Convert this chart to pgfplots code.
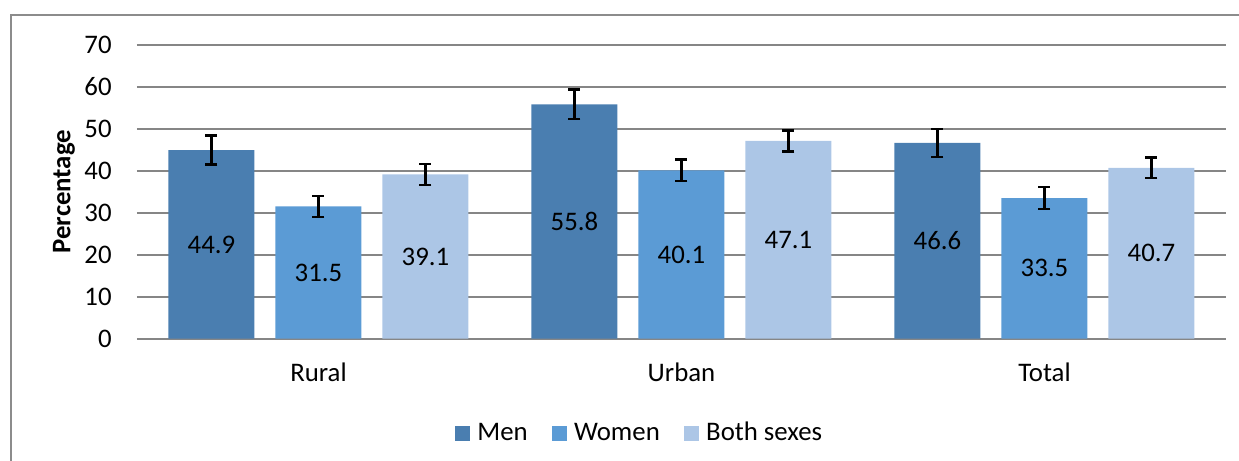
\documentclass[border=0pt]{standalone}
\usepackage{pgfplots}
\pgfplotsset{compat=1.18}
\usepackage{fontspec}
\setmainfont{Carlito}
\definecolor{men}{RGB}{74,126,176}
\definecolor{women}{RGB}{91,155,213}
\definecolor{both}{RGB}{172,198,230}
\definecolor{gridc}{RGB}{134,134,134}
\definecolor{framec}{RGB}{140,140,140}
\pgfplotsset{
  mybar/.style={draw=none, fill=#1,
    legend image code/.code={\fill[#1] (0pt,-3.75pt) rectangle (7.5pt,3.75pt); \path (0pt,0pt) (9pt,0pt);}},
}
\begin{document}
\fontsize{13.4pt}{16pt}\selectfont
\begin{tikzpicture}
\useasboundingbox (-68.5pt,-61.15pt) rectangle (551pt,169.35pt);
\clip (-68.5pt,-61.15pt) rectangle (551pt,169.35pt);
\draw[framec, line width=0.8pt] (-63pt,-100pt) -- (-63pt,161.85pt) -- (700pt,161.85pt);
\begin{axis}[
  at={(0,0)}, anchor=south west,
  scale only axis, width=544.5pt, height=147pt,
  xmin=-0.5, xmax=2.5, ymin=0, ymax=70,
  ytick={0,10,...,70},
  xtick={0,1,2}, xticklabels={Rural,Urban,Total},
  major tick length=0pt,
  axis line style={draw=none},
  ymajorgrids, grid style={gridc, line width=0.8pt},
  ybar=10.5pt, bar width=43pt,
  /pgf/number format/assume math mode=true,
  yticklabel style={inner sep=0pt, xshift=-12.5pt},
  xticklabel style={anchor=base, inner sep=0pt, yshift=-21.5pt},
  ylabel={\textbf{Percentage}},
  ylabel style={at={(axis description cs:-0.067,0.5)}, anchor=center},
  error bars/y dir=both, error bars/y explicit,
  error bars/error bar style={draw=black, line width=1.2pt},
  error bars/error mark options={draw=black, line width=1.2pt, mark size=3pt, rotate=90},
  visualization depends on={y \as \rawy},
  nodes near coords={\pgfmathprintnumber[fixed,fixed zerofill,precision=1]{\pgfplotspointmeta}},
  nodes near coords style={anchor=center, text=black, shift={(axis direction cs:0,-\rawy/2)}},
  legend columns=3,
  legend style={at={(axis description cs:0.292,0)}, anchor=west, yshift=-47.5pt,
    draw=none, fill=none, inner sep=0pt,
    /tikz/every even column/.append style={column sep=10.2pt}},
]
\addplot[mybar=men] table[x=x, y=y, y error=e] {
x y e
0 44.9 3.45
1 55.8 3.5
2 46.6 3.4
};
\addplot[mybar=women] table[x=x, y=y, y error=e] {
x y e
0 31.5 2.5
1 40.1 2.6
2 33.5 2.6
};
\addplot[mybar=both] table[x=x, y=y, y error=e] {
x y e
0 39.1 2.5
1 47.1 2.5
2 40.7 2.45
};
\legend{Men,Women,Both sexes}
\end{axis}
\end{tikzpicture}
\end{document}
